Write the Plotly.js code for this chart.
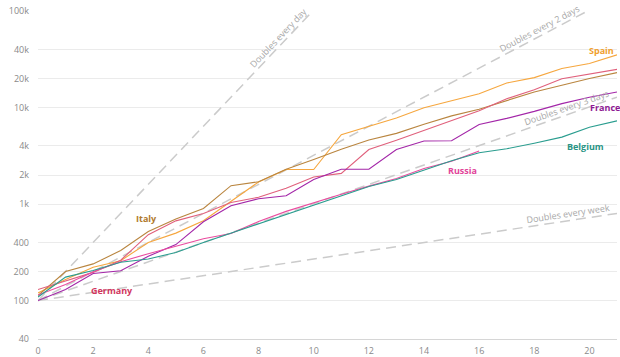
<!DOCTYPE html>
<html><head><meta charset="utf-8">
<script src="https://cdn.plot.ly/plotly-3.0.1.min.js"></script>
<style>html,body{margin:0;padding:0;background:#fff}#chart{width:620px;height:357px}</style>
</head><body><div id="chart"></div>
<script>
// ---- data: cases since the 100th case ----
const days = [0,1,2,3,4,5,6,7,8,9,10,11,12,13,14,15,16,17,18,19,20,21];
const spain   = [120,165,222,259,400,500,673,1073,1695,2277,2277,5232,6391,7798,9942,11748,13910,17963,20410,25374,28603,35136];
const italy   = [113,200,240,330,520,700,900,1550,1700,2300,2900,3700,4600,5400,6700,8200,9600,11800,14500,17000,20000,23000];
const germany = [130,159,196,262,482,670,799,1040,1176,1457,1908,2078,3675,4585,5795,7272,9257,12327,15320,19848,22213,24873];
const france  = [100,130,191,204,288,380,656,959,1136,1219,1794,2293,2293,3681,4496,4532,6683,7715,9124,10970,12758,14463];
const russia  = [114,147,199,253,306,367,438,495,658,840,1036,1264,1534,1836,2337,2777,3548];
const belgium = [109,175,205,250,270,315,400,500,615,780,970,1200,1520,1795,2257,2815,3401,3743,4269,4937,6235,7284];

const countryNames = ['Spain','Italy','Germany','France','Russia','Belgium'];
const countryValues = [spain, italy, germany, france, russia, belgium];

const doublingDays   = [1, 2, 3, 7];
const doublingLabels = ['Doubles every day','Doubles every 2 days','Doubles every 3 days','Doubles every week'];
const doublingStart  = 100;

const yTickVals = [40,100,200,400,1000,2000,4000,10000,20000,40000,100000];
const yTickText = ['40','100','200','400','1k','2k','4k','10k','20k','40k','100k'];
const xTickVals = [0,2,4,6,8,10,12,14,16,18,20];

// ---- styles / layout ----
const W = 620, H = 357, M = {l:38, r:3, t:11, b:18, pad:0};
const xRange = [0, 21], yRange = [Math.log10(40), 5];
const pw = W - M.l - M.r, ph = H - M.t - M.b;
const pxPerDay = pw / (xRange[1]-xRange[0]);
const pxPerDec = ph / (yRange[1]-yRange[0]);

const lineColors  = {Spain:'#f6a73f', Italy:'#b9853f', Germany:'#e0607c', France:'#a326a8', Russia:'#ea4c9f', Belgium:'#2a9d8f'};
const labelColors = {Spain:'#f0a030', Italy:'#b07a2e', Germany:'#d1365e', France:'#8e1a93', Russia:'#e2449a', Belgium:'#2a9585'};
// label centres (day, value)
const labelPos = {Spain:[20.42,39400], Italy:[3.95,710], Germany:[2.68,127], France:[20.57,10100], Russia:[15.38,2240], Belgium:[19.84,3970]};
const doublingLabelDay = [8.9, 18.3, 19.25, 19.26];

const traces = [];
doublingDays.forEach((T) => {
  traces.push({
    x: [xRange[0], xRange[1]],
    y: [doublingStart, doublingStart * Math.pow(2, (xRange[1]-xRange[0]) / T)],
    mode: 'lines', type: 'scatter', hoverinfo: 'skip',
    line: {color: '#cbcbcb', width: 1.5, dash: '10px,6px'}
  });
});
countryNames.forEach((name, i) => {
  const vals = countryValues[i];
  traces.push({
    x: days.slice(0, vals.length), y: vals, name,
    mode: 'lines', type: 'scatter', hoverinfo: 'skip',
    line: {color: lineColors[name], width: 1.1}
  });
});

const annotations = [];
doublingDays.forEach((T, i) => {
  const d = doublingLabelDay[i];
  const theta = Math.atan((pxPerDec * Math.log10(2) / T) / pxPerDay);
  const s = 7;
  annotations.push({
    x: d, y: Math.log10(doublingStart * Math.pow(2, d / T)), xref: 'x', yref: 'y',
    text: doublingLabels[i], showarrow: false, xanchor: 'center', yanchor: 'middle',
    textangle: -theta * 180 / Math.PI,
    xshift: -s * Math.sin(theta), yshift: s * Math.cos(theta),
    font: {family: '"Open Sans", sans-serif', size: 9, color: '#a8a8a8'}
  });
});
countryNames.forEach((name) => {
  const p = labelPos[name];
  annotations.push({
    x: p[0], y: Math.log10(p[1]), xref: 'x', yref: 'y',
    text: '<b>' + name + '</b>', showarrow: false, xanchor: 'center', yanchor: 'middle',
    font: {family: '"Open Sans", sans-serif', size: 9, color: labelColors[name]}
  });
});

const layout = {
  width: W, height: H, margin: M, showlegend: false,
  paper_bgcolor: '#fff', plot_bgcolor: '#fff',
  font: {family: '"Open Sans", sans-serif', size: 9, color: '#8a8a8a'},
  xaxis: {
    range: xRange, tickvals: xTickVals, showgrid: false, zeroline: false,
    showline: true, linecolor: '#d6d6d6', linewidth: 1, ticks: '',
    tickfont: {size: 9, color: '#8a8a8a'}, ticklabelstandoff: 3
  },
  yaxis: {
    type: 'log', range: yRange, tickvals: yTickVals, ticktext: yTickText,
    showgrid: true, gridcolor: '#ebebeb', gridwidth: 1, zeroline: false, showline: false, ticks: '',
    tickfont: {size: 9, color: '#8a8a8a'}, ticklabelstandoff: 8
  },
  annotations
};
Plotly.newPlot('chart', traces, layout, {staticPlot: true, displayModeBar: false});
</script></body></html>
